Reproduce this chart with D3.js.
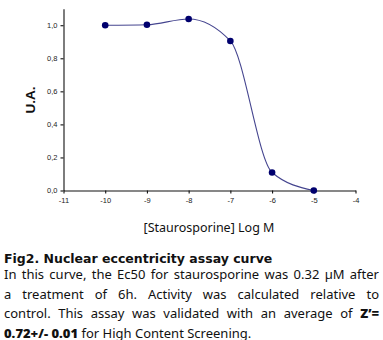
<!DOCTYPE html>
<html><head><meta charset="utf-8">
<script src="https://cdn.jsdelivr.net/npm/d3@7"></script>
<style>
html,body{margin:0;padding:0;background:#fff;}
#wrap{position:relative;width:383px;height:340px;overflow:hidden;}
svg{position:absolute;left:0;top:0;}
.cap{position:absolute;left:4px;width:375px;font-family:"Comic Sans MS","Noto Sans",sans-serif;font-size:13px;color:#111;white-space:nowrap;}
.just{text-align:justify;text-align-last:justify;white-space:normal;}
.hd{font-weight:900;font-family:"DejaVu Sans",sans-serif;font-size:12.5px;}
b{font-weight:900;}
</style></head>
<body><div id="wrap">
<svg id="chart" width="383" height="340"></svg>
</div>
<script>
// data
const logConc = [-10, -9, -8, -7, -6, -5];
const uaValues = [1.0, 1.003, 1.038, 0.905, 0.109, 0.0];
const xTickValues = [-11, -10, -9, -8, -7, -6, -5, -4];
const xTickLabels = ["-11", "-10", "-9", "-8", "-7", "-6", "-5", "-4"];
const yTickValues = [0, 0.2, 0.4, 0.6, 0.8, 1.0];
const yTickLabels = ["0,0", "0,2", "0,4", "0,6", "0,8", "1,0"];
const yLabel = "U.A.";
const xLabel = "[Staurosporine] Log M";
const figTitle = "Fig2. Nuclear eccentricity assay curve";
const captionLines = [
  "In this curve, the Ec50 for staurosporine was 0.32 µM after",
  "a treatment of 6h. Activity was calculated relative to",
];

const svg = d3.select("#chart");
const x = d3.scaleLinear().domain([-11, -4]).range([63.5, 355.5]);
const y = d3.scaleLinear().domain([0, 1.1]).range([190.5, 8.7]);

const xAxis = d3.axisBottom(x).tickValues(xTickValues)
  .tickFormat((d, i) => xTickLabels[i]).tickSize(3).tickSizeOuter(0).tickPadding(4);
const yAxis = d3.axisLeft(y).tickValues(yTickValues)
  .tickFormat((d, i) => yTickLabels[i]).tickSize(3).tickSizeOuter(0).tickPadding(3);

const gx = svg.append("g").attr("transform", `translate(0,${y(0)})`).call(xAxis);
const gy = svg.append("g").attr("transform", `translate(${x(-11)},0)`).call(yAxis);
[gx, gy].forEach(g => {
  g.selectAll("path,line").attr("stroke", "#111").attr("stroke-width", 1.1);
  g.selectAll("text").attr("font-family", "Liberation Sans, Arial, sans-serif")
    .attr("font-size", 7.5).attr("fill", "#222");
});

const pts = logConc.map((c, i) => [c, uaValues[i]]);
const line = d3.line().x(d => x(d[0])).y(d => y(d[1])).curve(d3.curveMonotoneX);
svg.append("path").attr("d", line(pts)).attr("fill", "none")
  .attr("stroke", "#45458f").attr("stroke-width", 1.1);
svg.selectAll("circle.pt").data(pts).enter().append("circle")
  .attr("cx", d => x(d[0])).attr("cy", d => y(d[1])).attr("r", 3.3)
  .attr("fill", "#00006e");

svg.append("text").attr("transform", `translate(35,100) rotate(-90)`)
  .attr("text-anchor", "middle").attr("font-family", "Liberation Sans, Arial, sans-serif")
  .attr("font-size", 13.5).attr("font-weight", "bold").attr("fill", "#111").text(yLabel);

svg.append("text").attr("x", 209).attr("y", 232).attr("text-anchor", "middle")
  .attr("font-family", "Comic Sans MS, Noto Sans, sans-serif").attr("font-size", 12.5)
  .attr("fill", "#111").text(xLabel);

const wrap = d3.select("#wrap");
wrap.append("div").attr("class", "cap hd").style("top", "251px").text(figTitle);
captionLines.forEach((t, i) => {
  wrap.append("div").attr("class", "cap just").style("top", (265 + i * 19.5) + "px").text(t);
});
const l3 = wrap.append("div").attr("class", "cap just").style("top", (265 + 2 * 19.5) + "px");
l3.append("span").text("control. This assay was validated with an average of ");
l3.append("b").text("Z’=");
const l4 = wrap.append("div").attr("class", "cap").style("top", (265 + 3 * 19.5) + "px");
l4.append("b").text("0.72+/- 0.01");
l4.append("span").text(" for High Content Screening.");
</script>
</body></html>
